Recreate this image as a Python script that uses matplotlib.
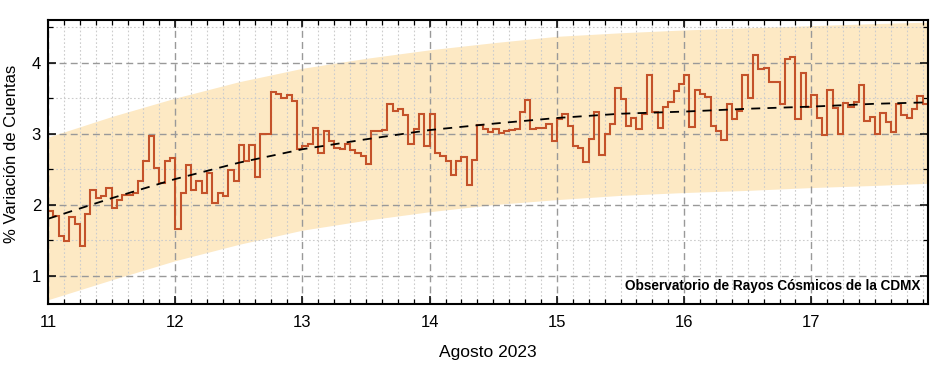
import numpy as np
import matplotlib
matplotlib.use("Agg")
import matplotlib.pyplot as plt
from matplotlib.ticker import MultipleLocator

plt.rcParams['font.family'] = ['Liberation Sans', 'DejaVu Sans']

# Hourly % variation of counts, 11 Aug 00h -> 17 Aug 21h
day11 = [1.91, 1.84, 1.56, 1.49, 1.83, 1.73, 1.42, 1.87, 2.21, 2.10, 2.12, 2.24,
         1.95, 2.06, 2.13, 2.13, 2.16, 2.33, 2.62, 2.96, 2.51, 2.31, 2.61, 2.65]
day12 = [1.65, 2.16, 2.56, 2.20, 2.33, 2.16, 2.44, 2.02, 2.17, 2.12, 2.49, 2.33,
         2.84, 2.62, 2.84, 2.39, 3.00, 3.00, 3.58, 3.56, 3.50, 3.54, 3.46, 2.79]
day13 = [2.82, 2.86, 3.08, 2.73, 3.04, 2.90, 2.80, 2.78, 2.86, 2.77, 2.72, 2.69,
         2.57, 3.03, 3.03, 3.05, 3.41, 3.32, 3.34, 3.26, 2.85, 3.06, 3.27, 2.83]
day14 = [3.27, 2.73, 2.69, 2.61, 2.41, 2.62, 2.67, 2.28, 2.63, 3.12, 3.07, 3.02,
         3.07, 3.01, 3.03, 3.05, 3.06, 3.31, 3.47, 3.07, 3.08, 3.08, 3.14, 2.90]
day15 = [3.21, 3.27, 3.10, 2.82, 2.80, 2.60, 2.92, 3.31, 2.70, 3.00, 3.14, 3.64,
         3.49, 3.11, 3.22, 3.07, 3.28, 3.83, 3.31, 3.08, 3.37, 3.44, 3.60, 3.70]
day16 = [3.83, 3.09, 3.62, 3.56, 3.52, 3.10, 3.04, 2.91, 3.41, 3.20, 3.32, 3.83,
         3.50, 4.11, 3.91, 3.92, 3.73, 3.72, 3.41, 4.05, 4.08, 3.21, 3.86, 3.38]
day17 = [3.55, 3.22, 2.98, 3.62, 3.36, 3.00, 3.43, 3.37, 3.45, 3.68, 3.18, 3.24,
         3.00, 3.29, 3.17, 3.02, 3.42, 3.26, 3.22, 3.34, 3.53, 3.42]

start_day = 11
# Fit curve and uncertainty band, read every half day
fit_days = [11.0, 11.5, 12.0, 12.5, 13.0, 13.5, 14.0, 14.5, 15.0, 15.5, 16.0,
            16.5, 17.0, 17.5, 17.917]
fit_vals = [1.80, 2.09, 2.36, 2.59, 2.78, 2.92, 3.05, 3.14, 3.22, 3.28, 3.31,
            3.35, 3.38, 3.42, 3.44]
band_upper = [2.95, 3.24, 3.50, 3.73, 3.92, 4.06, 4.18, 4.28, 4.37, 4.42, 4.46,
              4.49, 4.52, 4.55, 4.57]
band_lower = [0.66, 0.94, 1.21, 1.44, 1.64, 1.78, 1.90, 2.00, 2.07, 2.13, 2.17,
              2.20, 2.24, 2.27, 2.30]

day_ticks = [11, 12, 13, 14, 15, 16, 17]
xlabel = "Agosto 2023"
ylabel = "% Variación de Cuentas"
credit = "Observatorio de Rayos Cósmicos de la CDMX"

values = np.array(day11 + day12 + day13 + day14 + day15 + day16 + day17)
edges = start_day + np.arange(len(values) + 1) / 24.0

fig = plt.figure(figsize=(9.4, 3.66), dpi=100)
ax = fig.add_axes([48/940, 1-304/366, 880/940, 284/366])

ax.fill_between(fit_days, band_lower, band_upper, color='#fde9c4', lw=0, zorder=0.3)
ax.stairs(values, edges, color='#c4522a', lw=1.5, zorder=2, baseline=None)
ax.plot(fit_days, fit_vals, color='black', lw=1.3, ls=(0, (5, 4)), zorder=3)

ax.set_xlim(edges[0], edges[-1])
ax.set_ylim(0.6, 4.6)
ax.set_xticks(day_ticks)
ax.set_xticklabels([str(d) for d in day_ticks])
ax.xaxis.set_minor_locator(MultipleLocator(1/8))
ax.yaxis.set_major_locator(MultipleLocator(1))
ax.yaxis.set_minor_locator(MultipleLocator(0.5))

ax.set_axisbelow(True)
ax.grid(which='major', color='#999999', ls=(0, (5, 3)), lw=1.0)
ax.grid(which='minor', color='#cccccc', ls=(0, (1.5, 2)), lw=0.8)

ax.tick_params(which='both', direction='in', top=True, right=True, color='black')
ax.tick_params(which='major', length=6, width=1.1, labelsize=12)
ax.tick_params(axis='x', which='major', pad=8)
ax.tick_params(axis='y', which='major', pad=5)
ax.tick_params(which='minor', length=3.5, width=0.9)
for s in ax.spines.values():
    s.set_linewidth(1.5)

ax.set_xlabel(xlabel, fontsize=12.5, labelpad=11)
ax.set_ylabel(ylabel, fontsize=12, va='center')
ax.yaxis.set_label_coords(-0.041, 0.53)

ax.text(0.991, 0.062, credit, transform=ax.transAxes, ha='right', va='center',
        fontsize=9.8, fontweight='bold', zorder=4)

fig.savefig("out.png", dpi=100)
